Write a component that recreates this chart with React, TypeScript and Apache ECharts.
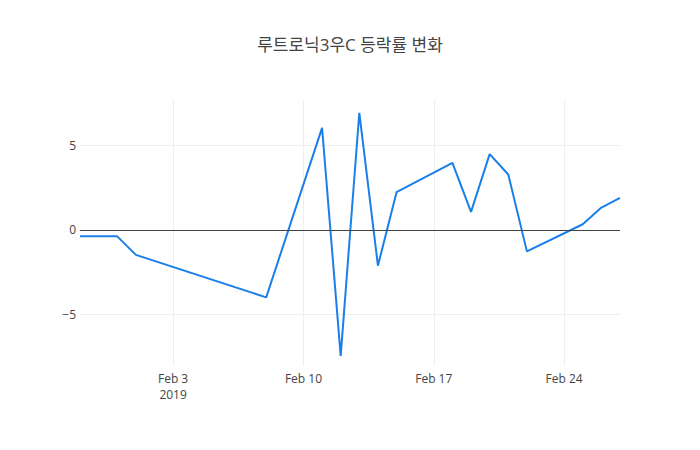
import React, { useEffect, useRef } from 'react'
import * as echarts from 'echarts'

const dates = [
  '2019-01-29', '2019-01-30', '2019-01-31', '2019-02-01', '2019-02-08',
  '2019-02-11', '2019-02-12', '2019-02-13', '2019-02-14', '2019-02-15',
  '2019-02-18', '2019-02-19', '2019-02-20', '2019-02-21', '2019-02-22',
  '2019-02-25', '2019-02-26', '2019-02-27'
]
const changes = [
  -0.38, -0.38, -0.38, -1.48, -4.0,
  6.06, -7.47, 6.95, -2.12, 2.24,
  3.98, 1.07, 4.5, 3.29, -1.27,
  0.34, 1.33, 1.9
]
const xTicks = ['2019-02-03', '2019-02-10', '2019-02-17', '2019-02-24']
const yTicks = [-5, 0, 5]

const MONTHS = ['Jan', 'Feb', 'Mar', 'Apr', 'May', 'Jun', 'Jul', 'Aug', 'Sep', 'Oct', 'Nov', 'Dec']
const FONT = '"Open Sans", "Noto Sans CJK KR", sans-serif'

// 'YYYY-MM-DD' -> local-time ms
const toMs = (s: string) => {
  const [y, m, d] = s.split('-').map(Number)
  return new Date(y, m - 1, d).getTime()
}

const App: React.FC = () => {
  const chartRef = useRef<HTMLDivElement>(null)

  useEffect(() => {
    if (!chartRef.current) return
    document.body.style.margin = '0'
    const chart = echarts.init(chartRef.current, null, { renderer: 'svg' })
    const xTickMs = xTicks.map(toMs)

    const option: echarts.EChartsOption = {
      animation: false,
      backgroundColor: '#fff',
      title: {
        text: '루트로닉3우C 등락률 변화',
        left: 'center',
        top: 31,
        textStyle: { fontFamily: FONT, fontSize: 17, fontWeight: 'normal', color: '#444' }
      },
      grid: { left: 80, right: 80, top: 100, bottom: 84 },
      xAxis: {
        type: 'value',
        min: toMs('2019-01-29'),
        max: toMs('2019-02-27'),
        axisLine: { show: false },
        axisTick: { show: false, customValues: xTickMs } as any,
        splitLine: { show: true, lineStyle: { color: '#eee', width: 1 } },
        axisLabel: {
          customValues: xTickMs,
          color: '#444',
          fontSize: 12,
          fontFamily: FONT,
          margin: 4,
          lineHeight: 16,
          formatter: (v: number) => {
            const d = new Date(v)
            const s = MONTHS[d.getMonth()] + ' ' + d.getDate()
            return d.getDate() === 3 ? s + '\n' + d.getFullYear() : s
          }
        } as any
      },
      yAxis: {
        type: 'value',
        min: -8.07,
        max: 7.71,
        axisLine: { show: false },
        axisTick: { show: false, customValues: yTicks } as any,
        splitLine: { show: true, lineStyle: { color: '#eee', width: 1 } },
        axisLabel: {
          customValues: yTicks,
          color: '#444',
          fontSize: 12,
          fontFamily: FONT,
          margin: 4,
          formatter: (v: number) => (v < 0 ? '\u2212' + Math.abs(v) : String(v))
        } as any
      },
      series: [
        {
          type: 'line',
          z: 1,
          data: [],
          markLine: {
            silent: true,
            symbol: 'none',
            label: { show: false },
            lineStyle: { color: '#444', width: 1, type: 'solid' },
            data: [{ yAxis: 0 }]
          } as any
        },
        {
          type: 'line',
          z: 3,
          data: dates.map((d, i) => [toMs(d), changes[i]]),
          showSymbol: false,
          symbol: 'none',
          lineStyle: { color: '#1a7fe8', width: 2 },
          itemStyle: { color: '#1a7fe8' }
        }
      ]
    }

    chart.setOption(option)
    return () => chart.dispose()
  }, [])

  return <div ref={chartRef} style={{ width: 700, height: 450 }} />
}

export default App
